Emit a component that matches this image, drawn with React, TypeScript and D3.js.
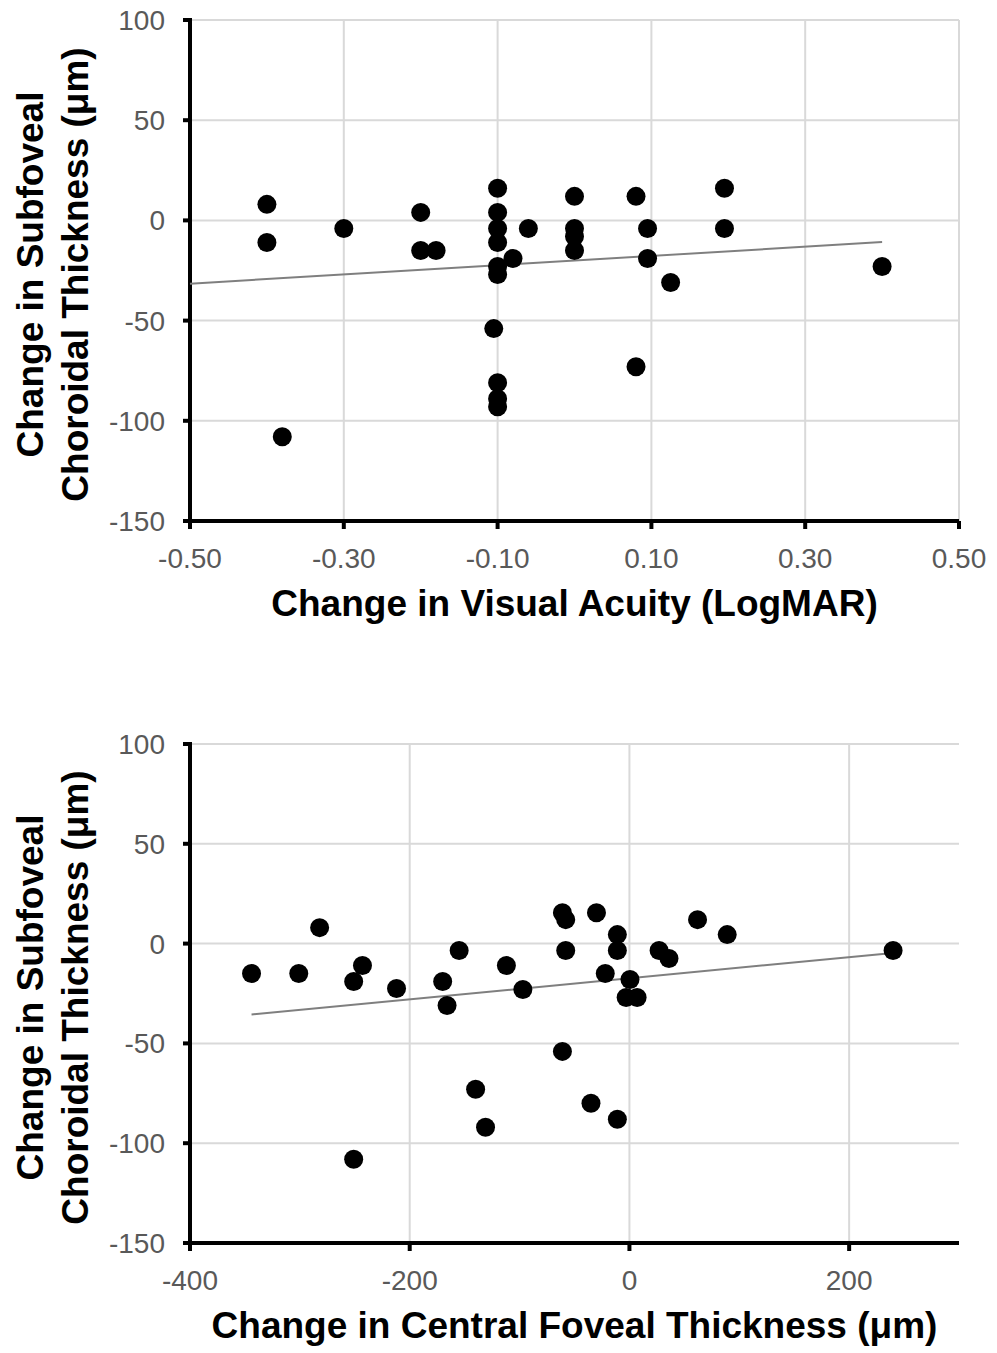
import React from 'react';
import * as d3 from 'd3';

// top panel: change in visual acuity (LogMAR) vs change in SFCT (µm)
const vaChange = [-0.40, -0.40, -0.38, -0.30, -0.20, -0.20, -0.18, -0.10, -0.10, -0.10, -0.10, -0.10, -0.10, -0.105, -0.10, -0.10, -0.10, -0.08, -0.06, 0.0, 0.0, 0.0, 0.0, 0.08, 0.095, 0.095, 0.125, 0.08, 0.195, 0.195, 0.40];
const vaSfct = [8, -11, -108, -4, 4, -15, -15, 16, 4, -4, -11, -23, -27, -54, -81, -89, -93, -19, -4, 12, -4, -8, -15, 12, -4, -19, -31, -73, 16, -4, -23];
const vaTrendX = [-0.5, 0.4];
const vaTrendY = [-31.6, -10.8];
const vaTicks = [-0.5, -0.3, -0.1, 0.1, 0.3, 0.5];

// bottom panel: change in central foveal thickness vs change in SFCT
const cftChange = [-344, -301, -282, -243, -251, -251, -212, -170, -166, -155, -140, -131, -112, -97, -61, -58, -58, -61, -35, -30, -11, -11, -22, 0.5, -3, 7, -11, 27, 36, 62, 89, 240];
const cftSfct = [-15, -15, 8, -11, -19, -108, -22.5, -19, -31, -3.5, -73, -92, -11, -23, 15.5, 12, -3.5, -54, -80, 15.5, 4.5, -3.5, -15, -18, -27, -27, -88, -3.5, -7.5, 12, 4.5, -3.5];
const cftTrendX = [-344, 240];
const cftTrendY = [-35.5, -4.7];
const cftTicks = [-400, -200, 0, 200];

const yTicks = [100, 50, 0, -50, -100, -150];

const FONT = "'Liberation Sans', Arial, Helvetica, sans-serif";

type PanelProps = {
  top: number;
  bottom: number;
  xDomain: [number, number];
  xTicks: number[];
  xFormat: (v: number) => string;
  xs: number[];
  ys: number[];
  trendX: number[];
  trendY: number[];
  xTitle: string;
};

const Panel = ({ top, bottom, xDomain, xTicks, xFormat, xs, ys, trendX, trendY, xTitle }: PanelProps) => {
  const left = 190;
  const right = 959;
  const x = d3.scaleLinear().domain(xDomain).range([left, right]);
  const y = d3.scaleLinear().domain([-150, 100]).range([bottom, top]);

  const trend = d3.line<number>()
    .x((d) => x(d))
    .y((_, i) => y(trendY[i]))(trendX) || '';

  const midY = (top + bottom) / 2 + 4;

  return (
    <g>
      {/* grid */}
      {yTicks.filter((t) => t !== -150).map((t) => (
        <line key={'gy' + t} x1={left} x2={right} y1={y(t)} y2={y(t)} stroke="#d9d9d9" strokeWidth={2} />
      ))}
      {xTicks.filter((t) => x(t) > left + 1).map((t) => (
        <line key={'gx' + t} x1={x(t)} x2={x(t)} y1={top} y2={bottom} stroke="#d9d9d9" strokeWidth={2} />
      ))}

      {/* axes */}
      <line x1={left} x2={left} y1={top - 2} y2={bottom + 2} stroke="#000" strokeWidth={4} />
      <line x1={left - 2} x2={right} y1={bottom} y2={bottom} stroke="#000" strokeWidth={4} />
      {yTicks.map((t) => (
        <g key={'ty' + t}>
          <line x1={left - 7} x2={left} y1={y(t)} y2={y(t)} stroke="#000" strokeWidth={4} />
          <text x={165} y={y(t)} dy="0.36em" textAnchor="end" fontSize={28} fill="#595959" fontFamily={FONT}>{t}</text>
        </g>
      ))}
      {xTicks.map((t) => (
        <g key={'tx' + t}>
          <line x1={x(t)} x2={x(t)} y1={bottom} y2={bottom + 8} stroke="#000" strokeWidth={4} />
          <text x={x(t)} y={bottom + 47} textAnchor="middle" fontSize={28} fill="#595959" fontFamily={FONT}>{xFormat(t)}</text>
        </g>
      ))}

      {/* trend line */}
      <path d={trend} fill="none" stroke="#7f7f7f" strokeWidth={2} />

      {/* points */}
      {xs.map((v, i) => (
        <circle key={i} cx={x(v)} cy={y(ys[i])} r={9.5} fill="#000" />
      ))}

      {/* titles */}
      <text x={(left + right) / 2} y={bottom + 95} textAnchor="middle" fontSize={37} fontWeight="bold" fill="#000" fontFamily={FONT}>{xTitle}</text>
      <text transform={`translate(43,${midY}) rotate(-90)`} textAnchor="middle" fontSize={37} fontWeight="bold" fill="#000" fontFamily={FONT}>Change in Subfoveal</text>
      <text transform={`translate(88,${midY}) rotate(-90)`} textAnchor="middle" fontSize={37} fontWeight="bold" fill="#000" fontFamily={FONT}>Choroidal Thickness (μm)</text>
    </g>
  );
};

export default function App() {
  return (
    <svg width={997} height={1353} style={{ position: 'absolute', left: 0, top: 0, background: '#fff' }}>
      <rect width={997} height={1353} fill="#fff" />
      <Panel
        top={20}
        bottom={521}
        xDomain={[-0.5, 0.5]}
        xTicks={vaTicks}
        xFormat={(v) => v.toFixed(2)}
        xs={vaChange}
        ys={vaSfct}
        trendX={vaTrendX}
        trendY={vaTrendY}
        xTitle="Change in Visual Acuity (LogMAR)"
      />
      <Panel
        top={744}
        bottom={1243}
        xDomain={[-400, 300]}
        xTicks={cftTicks}
        xFormat={(v) => String(v)}
        xs={cftChange}
        ys={cftSfct}
        trendX={cftTrendX}
        trendY={cftTrendY}
        xTitle="Change in Central Foveal Thickness (μm)"
      />
    </svg>
  );
}
